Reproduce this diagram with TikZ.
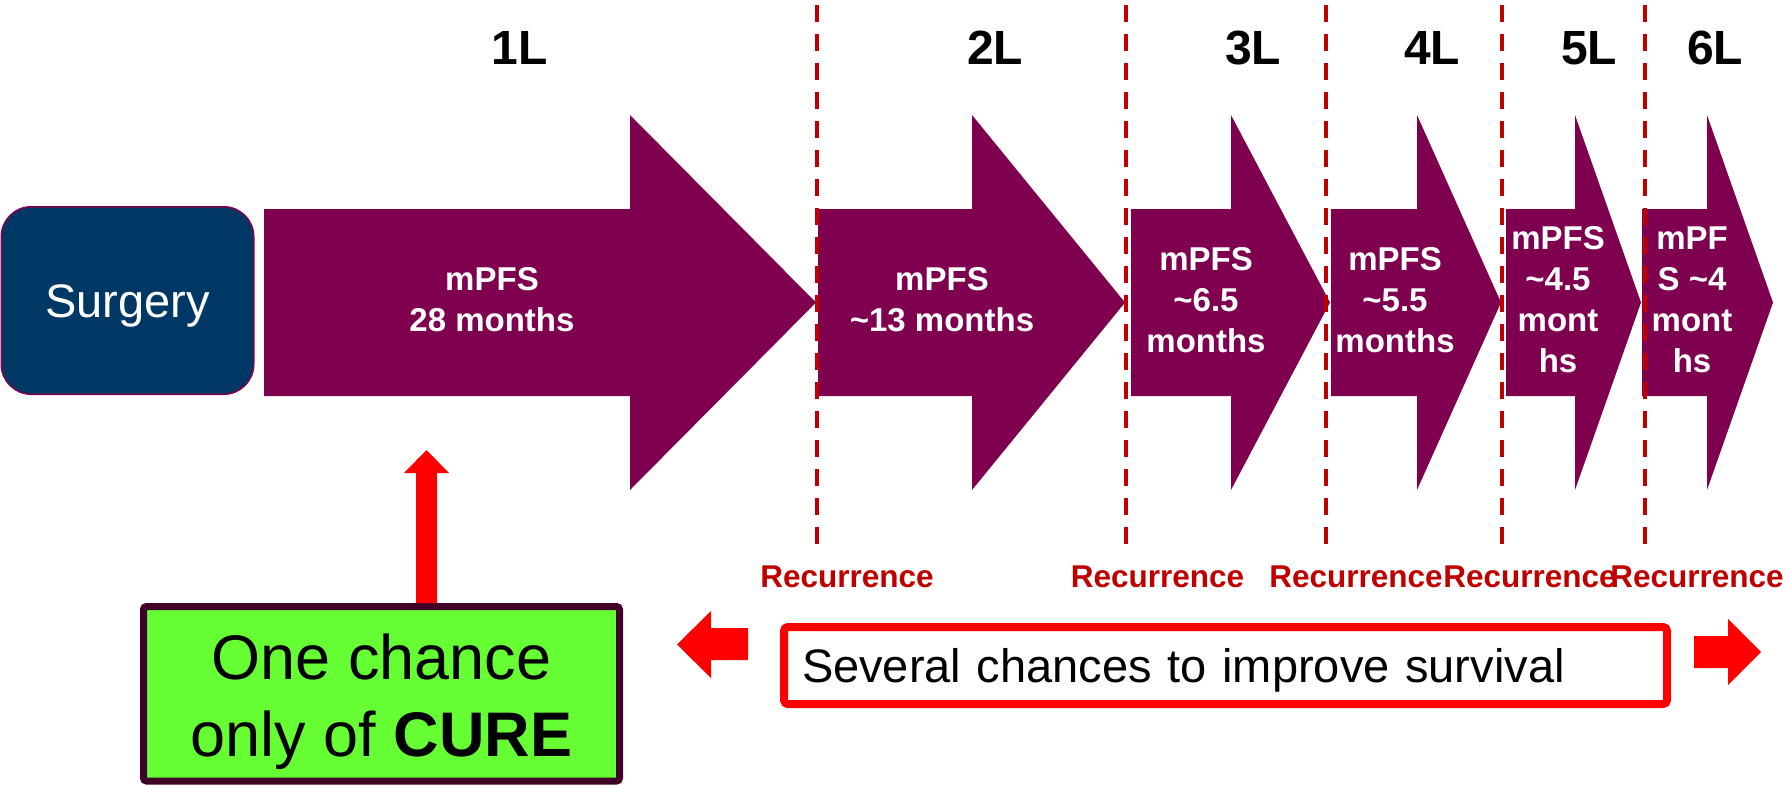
\documentclass[tikz,border=0pt]{standalone}
\usepackage{fontspec}
\setmainfont{Liberation Sans}
\definecolor{arrowpurple}{RGB}{128,0,80}
\definecolor{navyblue}{RGB}{0,56,101}
\definecolor{darkred}{RGB}{192,0,0}
\definecolor{curegreen}{RGB}{102,255,51}
\definecolor{cureborder}{RGB}{64,0,40}
\definecolor{brightred}{RGB}{255,0,0}
\tikzset{
  blockarrow/.style={fill=arrowpurple},
  arrowtext/.style={text=white, font=\bfseries\fontsize{33}{41}\selectfont, align=center, inner sep=0pt},
  linelabel/.style={font=\bfseries\fontsize{48}{56}\selectfont, anchor=base, inner sep=0pt},
  recur/.style={text=darkred, font=\bfseries\fontsize{31.5}{38}\selectfont, anchor=base, inner sep=0pt},
  recline/.style={draw=darkred, line width=4.3pt, dash pattern=on 16.7pt off 12.3pt},
  surgerybox/.style={draw=arrowpurple, line width=1.5pt, fill=navyblue, rounded corners=30pt,
    minimum width=252.5pt, minimum height=187.5pt, text=white,
    font=\fontsize{47}{56}\selectfont, text height=33.6pt, text depth=0pt, inner sep=0pt},
  survbox/.style={draw=brightred, line width=8pt, fill=white, rounded corners=4pt,
    minimum width=883pt, minimum height=77pt, text width=847pt, align=left, inner xsep=18pt, inner ysep=0pt,
    font=\fontsize{47}{56}\selectfont, text height=33.6pt, text depth=0pt},
  curebox/.style={draw=cureborder, line width=7pt, fill=curegreen, rounded corners=3pt,
    minimum width=476pt, minimum height=174.5pt, inner sep=0pt},
  curetext/.style={font=\fontsize{63}{77}\selectfont, align=center, inner sep=0pt},
  redshape/.style={fill=brightred},
}
\begin{document}
\begin{tikzpicture}[x=1pt,y=-1pt]
\useasboundingbox (0,0) rectangle (1786,785);

% block arrows
\foreach \l/\h/\t in {264/630/816, 818/972/1125, 1131/1231/1330, 1331/1417/1501, 1506/1575/1641, 1642/1707/1773}
  \fill[blockarrow] (\l,209) -- (\h,209) -- (\h,115) -- (\t,302.5) -- (\h,490) -- (\h,396) -- (\l,396) -- cycle;

% surgery
\node[surgerybox] (surgery) at (127.5,300.5) {Surgery};

% arrow texts
\node[arrowtext] (t1) at (492,300) {mPFS\\28 months};
\node[arrowtext] (t2) at (942,300) {mPFS\\\textasciitilde13 months};
\node[arrowtext] (t3) at (1206,300) {mPFS\\\textasciitilde6.5\\months};
\node[arrowtext] (t4) at (1395,300) {mPFS\\\textasciitilde5.5\\months};
\node[arrowtext] (t5) at (1558,300) {mPFS\\\textasciitilde4.5\\mont\\hs};
\node[arrowtext] (t6) at (1692,300) {mPF\\S \textasciitilde4\\mont\\hs};

% dashed recurrence lines
\foreach \x in {817,1126,1326,1502,1645}
  \draw[recline] (\x,5) -- (\x,544);

% line labels
\node[linelabel] (l1) at (520,64) {1L};
\node[linelabel] (l2) at (995,64) {2L};
\node[linelabel] (l3) at (1253,64) {3L};
\node[linelabel] (l4) at (1432,64) {4L};
\node[linelabel] (l5) at (1589,64) {5L};
\node[linelabel] (l6) at (1715,64) {6L};

% recurrence labels
\node[recur] (r1) at (847,587) {Recurrence};
\node[recur] (r2) at (1157.5,587) {Recurrence};
\node[recur] (r3) at (1356,587) {Recurrence};
\node[recur] (r4) at (1530,587) {Recurrence};
\node[recur] (r5) at (1697,587) {Recurrence};

% cure box
\node[curebox] (cure) at (381.5,693.75) {};
\node[curetext] (curetext) at (381.5,701.5) {One chance\\only of \textbf{CURE}};

% up arrow
\coordinate (upL) at (416,0);
\coordinate (upR) at (437,0);
\fill[redshape] (cure.north -| upL) -- (416,473) -- (404,473) -- (426.5,450) -- (449,473) -- (437,473) -- (cure.north -| upR) -- cycle;

% survival box
\node[survbox] (surv) at (1225.5,665.5) {Several chances to improve survival};

% left and right red arrows
\fill[redshape] (677,644.5) -- (711,611) -- (711,628) -- (748,628) -- (748,660) -- (711,660) -- (711,678) -- cycle;
\fill[redshape] (1761,652) -- (1728,619) -- (1728,636) -- (1694,636) -- (1694,668) -- (1728,668) -- (1728,685) -- cycle;
\end{tikzpicture}
\end{document}
